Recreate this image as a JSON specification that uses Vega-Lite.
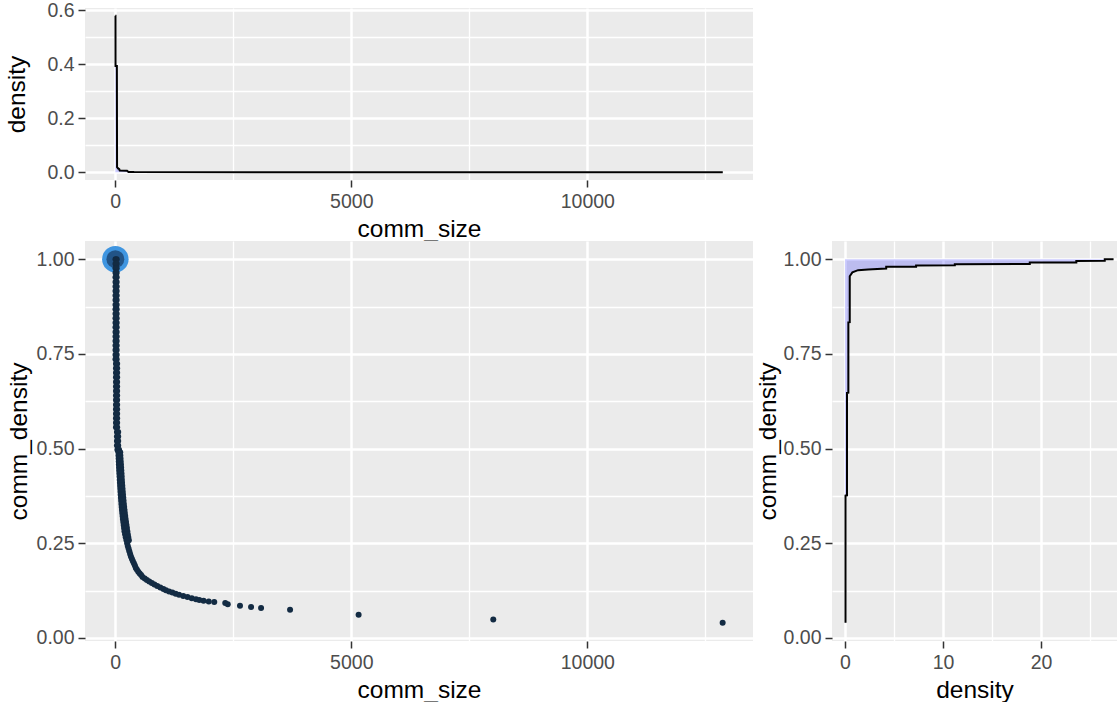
{
  "$schema": "https://vega.github.io/schema/vega-lite/v6.json",
  "autosize": {"type": "pad"},
  "padding": {"left": 4, "top": 0, "right": 0, "bottom": 0},
  "background": "white",
  "config": {
    "view": {"fill": "#EBEBEB", "stroke": null},
    "font": "Liberation Sans",
    "axis": {
      "domain": false,
      "gridColor": "#FFFFFF",
      "tickColor": "#333333",
      "tickSize": 7,
      "tickWidth": 1.5,
      "labelColor": "#4D4D4D",
      "labelFont": "Liberation Sans",
      "labelFontSize": 19.5,
      "labelPadding": 4,
      "titleFont": "Liberation Sans",
      "titleFontSize": 24.5,
      "titleFontWeight": "normal",
      "titleColor": "#000000"
    }
  },
  "datasets": {
    "topdens": [
      {"i": 1, "comm_size": 2, "density": 0.579},
      {"i": 2, "comm_size": 5, "density": 0.579},
      {"i": 3, "comm_size": 6, "density": 0.393},
      {"i": 4, "comm_size": 34, "density": 0.393},
      {"i": 5, "comm_size": 38, "density": 0.0185},
      {"i": 6, "comm_size": 60, "density": 0.014},
      {"i": 7, "comm_size": 85, "density": 0.011},
      {"i": 8, "comm_size": 95, "density": 0.006},
      {"i": 9, "comm_size": 250, "density": 0.005},
      {"i": 10, "comm_size": 280, "density": 0.0008},
      {"i": 11, "comm_size": 400, "density": 0.0002},
      {"i": 12, "comm_size": 12870, "density": 0}
    ],
    "rightdens": [
      {"i": 1, "density": 0.05, "comm_density": 0.04},
      {"i": 2, "density": 0.05, "comm_density": 0.376},
      {"i": 3, "density": 0.2, "comm_density": 0.3765},
      {"i": 4, "density": 0.2, "comm_density": 0.647},
      {"i": 5, "density": 0.34, "comm_density": 0.6475},
      {"i": 6, "density": 0.34, "comm_density": 0.833},
      {"i": 7, "density": 0.48, "comm_density": 0.8335},
      {"i": 8, "density": 0.48, "comm_density": 0.955},
      {"i": 9, "density": 0.75, "comm_density": 0.965},
      {"i": 10, "density": 1.33, "comm_density": 0.971},
      {"i": 11, "density": 2.35, "comm_density": 0.973},
      {"i": 12, "density": 4.2, "comm_density": 0.9755},
      {"i": 13, "density": 4.2, "comm_density": 0.9797},
      {"i": 14, "density": 7.25, "comm_density": 0.9799},
      {"i": 15, "density": 7.25, "comm_density": 0.9835},
      {"i": 16, "density": 11.2, "comm_density": 0.9842},
      {"i": 17, "density": 11.2, "comm_density": 0.9868},
      {"i": 18, "density": 18.85, "comm_density": 0.987},
      {"i": 19, "density": 18.85, "comm_density": 0.9913},
      {"i": 20, "density": 23.6, "comm_density": 0.9915},
      {"i": 21, "density": 23.6, "comm_density": 0.9955},
      {"i": 22, "density": 26.5, "comm_density": 0.9957},
      {"i": 23, "density": 26.5, "comm_density": 0.9998},
      {"i": 24, "density": 27.4, "comm_density": 1.0}
    ],
    "big": [{"comm_size": 2, "comm_density": 1.0}],
    "pts": [
      {"comm_size": 5, "comm_density": 1.0}, {"comm_size": 30, "comm_density": 1.0},
      {"comm_size": 5, "comm_density": 0.988}, {"comm_size": 30, "comm_density": 0.988},
      {"comm_size": 5, "comm_density": 0.976}, {"comm_size": 30, "comm_density": 0.976},
      {"comm_size": 5, "comm_density": 0.964}, {"comm_size": 30, "comm_density": 0.964},
      {"comm_size": 5, "comm_density": 0.952}, {"comm_size": 30, "comm_density": 0.952},
      {"comm_size": 5, "comm_density": 0.94}, {"comm_size": 30, "comm_density": 0.94},
      {"comm_size": 5, "comm_density": 0.928}, {"comm_size": 30, "comm_density": 0.928},
      {"comm_size": 5, "comm_density": 0.916}, {"comm_size": 30, "comm_density": 0.916},
      {"comm_size": 5, "comm_density": 0.904}, {"comm_size": 30, "comm_density": 0.904},
      {"comm_size": 5, "comm_density": 0.892}, {"comm_size": 30, "comm_density": 0.892},
      {"comm_size": 5, "comm_density": 0.88}, {"comm_size": 30, "comm_density": 0.88},
      {"comm_size": 5, "comm_density": 0.868}, {"comm_size": 30, "comm_density": 0.868},
      {"comm_size": 5, "comm_density": 0.856}, {"comm_size": 30, "comm_density": 0.856},
      {"comm_size": 5, "comm_density": 0.844}, {"comm_size": 30, "comm_density": 0.844},
      {"comm_size": 5, "comm_density": 0.832}, {"comm_size": 30, "comm_density": 0.832},
      {"comm_size": 5, "comm_density": 0.82}, {"comm_size": 30, "comm_density": 0.82},
      {"comm_size": 5, "comm_density": 0.808}, {"comm_size": 30, "comm_density": 0.808},
      {"comm_size": 5, "comm_density": 0.796}, {"comm_size": 30, "comm_density": 0.796},
      {"comm_size": 5, "comm_density": 0.784}, {"comm_size": 30, "comm_density": 0.784},
      {"comm_size": 5, "comm_density": 0.772}, {"comm_size": 30, "comm_density": 0.772},
      {"comm_size": 5, "comm_density": 0.76}, {"comm_size": 30, "comm_density": 0.76},
      {"comm_size": 5, "comm_density": 0.748}, {"comm_size": 30, "comm_density": 0.748},
      {"comm_size": 5, "comm_density": 0.736}, {"comm_size": 30, "comm_density": 0.736},
      {"comm_size": 15, "comm_density": 0.724}, {"comm_size": 40, "comm_density": 0.724},
      {"comm_size": 15, "comm_density": 0.712}, {"comm_size": 40, "comm_density": 0.712},
      {"comm_size": 15, "comm_density": 0.7}, {"comm_size": 40, "comm_density": 0.7},
      {"comm_size": 15, "comm_density": 0.688}, {"comm_size": 40, "comm_density": 0.688},
      {"comm_size": 15, "comm_density": 0.676}, {"comm_size": 40, "comm_density": 0.676},
      {"comm_size": 15, "comm_density": 0.664}, {"comm_size": 40, "comm_density": 0.664},
      {"comm_size": 15, "comm_density": 0.652}, {"comm_size": 40, "comm_density": 0.652},
      {"comm_size": 15, "comm_density": 0.64}, {"comm_size": 40, "comm_density": 0.64},
      {"comm_size": 15, "comm_density": 0.628}, {"comm_size": 40, "comm_density": 0.628},
      {"comm_size": 15, "comm_density": 0.616}, {"comm_size": 40, "comm_density": 0.616},
      {"comm_size": 15, "comm_density": 0.604}, {"comm_size": 40, "comm_density": 0.604},
      {"comm_size": 15, "comm_density": 0.592}, {"comm_size": 40, "comm_density": 0.592},
      {"comm_size": 15, "comm_density": 0.58}, {"comm_size": 40, "comm_density": 0.58},
      {"comm_size": 15, "comm_density": 0.568}, {"comm_size": 40, "comm_density": 0.568},
      {"comm_size": 15, "comm_density": 0.556}, {"comm_size": 40, "comm_density": 0.556},
      {"comm_size": 35, "comm_density": 0.544}, {"comm_size": 62, "comm_density": 0.544},
      {"comm_size": 35, "comm_density": 0.532}, {"comm_size": 62, "comm_density": 0.532},
      {"comm_size": 35, "comm_density": 0.52}, {"comm_size": 62, "comm_density": 0.52},
      {"comm_size": 35, "comm_density": 0.508}, {"comm_size": 62, "comm_density": 0.508},
      {"comm_size": 45, "comm_density": 0.497}, {"comm_size": 80, "comm_density": 0.497},
      {"comm_size": 66, "comm_density": 0.49}, {"comm_size": 105, "comm_density": 0.49},
      {"comm_size": 68, "comm_density": 0.482}, {"comm_size": 108, "comm_density": 0.482},
      {"comm_size": 71, "comm_density": 0.474}, {"comm_size": 112, "comm_density": 0.474},
      {"comm_size": 74, "comm_density": 0.466}, {"comm_size": 116, "comm_density": 0.466},
      {"comm_size": 77, "comm_density": 0.458}, {"comm_size": 120, "comm_density": 0.458},
      {"comm_size": 80, "comm_density": 0.45}, {"comm_size": 124, "comm_density": 0.45},
      {"comm_size": 83, "comm_density": 0.442}, {"comm_size": 128, "comm_density": 0.442},
      {"comm_size": 87, "comm_density": 0.434}, {"comm_size": 132, "comm_density": 0.434},
      {"comm_size": 91, "comm_density": 0.426}, {"comm_size": 136, "comm_density": 0.426},
      {"comm_size": 95, "comm_density": 0.418}, {"comm_size": 140, "comm_density": 0.418},
      {"comm_size": 99, "comm_density": 0.41}, {"comm_size": 144, "comm_density": 0.41},
      {"comm_size": 103, "comm_density": 0.402}, {"comm_size": 149, "comm_density": 0.402},
      {"comm_size": 107, "comm_density": 0.394}, {"comm_size": 154, "comm_density": 0.394},
      {"comm_size": 111, "comm_density": 0.386}, {"comm_size": 159, "comm_density": 0.386},
      {"comm_size": 115, "comm_density": 0.378}, {"comm_size": 164, "comm_density": 0.378},
      {"comm_size": 120, "comm_density": 0.37}, {"comm_size": 170, "comm_density": 0.37},
      {"comm_size": 125, "comm_density": 0.362}, {"comm_size": 176, "comm_density": 0.362},
      {"comm_size": 130, "comm_density": 0.354}, {"comm_size": 182, "comm_density": 0.354},
      {"comm_size": 136, "comm_density": 0.346}, {"comm_size": 189, "comm_density": 0.346},
      {"comm_size": 142, "comm_density": 0.338}, {"comm_size": 196, "comm_density": 0.338},
      {"comm_size": 148, "comm_density": 0.33}, {"comm_size": 203, "comm_density": 0.33},
      {"comm_size": 155, "comm_density": 0.322}, {"comm_size": 211, "comm_density": 0.322},
      {"comm_size": 162, "comm_density": 0.314}, {"comm_size": 219, "comm_density": 0.314},
      {"comm_size": 170, "comm_density": 0.306}, {"comm_size": 228, "comm_density": 0.306},
      {"comm_size": 178, "comm_density": 0.298}, {"comm_size": 237, "comm_density": 0.298},
      {"comm_size": 186, "comm_density": 0.29}, {"comm_size": 247, "comm_density": 0.29},
      {"comm_size": 195, "comm_density": 0.282}, {"comm_size": 256, "comm_density": 0.282},
      {"comm_size": 208, "comm_density": 0.274}, {"comm_size": 265, "comm_density": 0.274},
      {"comm_size": 222, "comm_density": 0.266}, {"comm_size": 276, "comm_density": 0.266},
      {"comm_size": 238, "comm_density": 0.258}, {"comm_size": 288, "comm_density": 0.258},
      {"comm_size": 252, "comm_density": 0.25},
      {"comm_size": 266, "comm_density": 0.243},
      {"comm_size": 282, "comm_density": 0.236},
      {"comm_size": 298, "comm_density": 0.229},
      {"comm_size": 315, "comm_density": 0.222},
      {"comm_size": 332, "comm_density": 0.215},
      {"comm_size": 352, "comm_density": 0.209},
      {"comm_size": 372, "comm_density": 0.203},
      {"comm_size": 395, "comm_density": 0.197},
      {"comm_size": 416, "comm_density": 0.191},
      {"comm_size": 436, "comm_density": 0.185},
      {"comm_size": 460, "comm_density": 0.18},
      {"comm_size": 488, "comm_density": 0.175},
      {"comm_size": 518, "comm_density": 0.17},
      {"comm_size": 548, "comm_density": 0.166},
      {"comm_size": 578, "comm_density": 0.161},
      {"comm_size": 625, "comm_density": 0.157},
      {"comm_size": 670, "comm_density": 0.153},
      {"comm_size": 720, "comm_density": 0.149},
      {"comm_size": 775, "comm_density": 0.145},
      {"comm_size": 830, "comm_density": 0.141},
      {"comm_size": 890, "comm_density": 0.137},
      {"comm_size": 955, "comm_density": 0.133},
      {"comm_size": 1020, "comm_density": 0.129},
      {"comm_size": 1074, "comm_density": 0.126},
      {"comm_size": 1140, "comm_density": 0.123},
      {"comm_size": 1210, "comm_density": 0.12},
      {"comm_size": 1280, "comm_density": 0.117},
      {"comm_size": 1350, "comm_density": 0.114},
      {"comm_size": 1440, "comm_density": 0.111},
      {"comm_size": 1530, "comm_density": 0.108},
      {"comm_size": 1620, "comm_density": 0.105},
      {"comm_size": 1710, "comm_density": 0.102},
      {"comm_size": 1780, "comm_density": 0.1},
      {"comm_size": 1870, "comm_density": 0.098},
      {"comm_size": 1980, "comm_density": 0.096},
      {"comm_size": 2097, "comm_density": 0.095},
      {"comm_size": 2330, "comm_density": 0.092},
      {"comm_size": 2383, "comm_density": 0.089},
      {"comm_size": 2642, "comm_density": 0.085},
      {"comm_size": 2877, "comm_density": 0.082},
      {"comm_size": 3089, "comm_density": 0.079},
      {"comm_size": 3703, "comm_density": 0.0745},
      {"comm_size": 5155, "comm_density": 0.061},
      {"comm_size": 8008, "comm_density": 0.049},
      {"comm_size": 12867, "comm_density": 0.04}
    ]
  },
  "spacing": 0,
  "vconcat": [
    {
      "width": 668,
      "height": 172,
      "data": {"name": "topdens"},
      "encoding": {
        "x": {
          "field": "comm_size", "type": "quantitative",
          "scale": {"domain": [-641, 13510], "nice": false, "zero": false},
          "axis": {
            "title": "comm_size",
            "values": [0, 2500, 5000, 7500, 10000, 12500],
            "labelExpr": "datum.value % 5000 == 0 ? format(datum.value, 'd') : ''",
            "tickOpacity": {"condition": {"test": "datum.value % 5000 != 0", "value": 0}, "value": 1},
            "gridWidth": {"condition": {"test": "datum.value % 5000 != 0", "value": 1.3}, "value": 2.5},
            "labelPadding": 5,
            "titleY": 49, "titleBaseline": "middle"
          }
        },
        "y": {
          "field": "density", "type": "quantitative",
          "scale": {"domain": [-0.029, 0.608], "nice": false, "zero": false},
          "axis": {
            "title": "density",
            "values": [0, 0.1, 0.2, 0.3, 0.4, 0.5, 0.6],
            "labelExpr": "round(datum.value * 10) % 2 == 0 ? format(datum.value, '.1f') : ''",
            "tickOpacity": {"condition": {"test": "round(datum.value * 10) % 2 == 1", "value": 0}, "value": 1},
            "gridWidth": {"condition": {"test": "round(datum.value * 10) % 2 == 1", "value": 1.3}, "value": 2.5},
            "titleX": -68, "titleAngle": -90, "titleBaseline": "middle"
          }
        }
      },
      "layer": [
        {"mark": {"type": "area", "color": "blue", "opacity": 0.2}, "encoding": {"y": {"field": "density", "type": "quantitative", "stack": null}, "y2": {"datum": 0}}},
        {"mark": {"type": "line", "color": "black", "strokeWidth": 2}, "encoding": {"order": {"field": "i", "type": "quantitative"}}}
      ]
    },
    {
      "spacing": 2,
      "hconcat": [
        {
          "width": 668,
          "height": 400,
          "encoding": {
            "x": {
              "field": "comm_size", "type": "quantitative",
              "scale": {"domain": [-641, 13510], "nice": false, "zero": false},
              "axis": {
                "title": "comm_size",
                "values": [0, 2500, 5000, 7500, 10000, 12500],
                "labelExpr": "datum.value % 5000 == 0 ? format(datum.value, 'd') : ''",
                "tickOpacity": {"condition": {"test": "datum.value % 5000 != 0", "value": 0}, "value": 1},
                "gridWidth": {"condition": {"test": "datum.value % 5000 != 0", "value": 1.3}, "value": 2.5},
                "labelPadding": 5,
                "titleY": 49, "titleBaseline": "middle"
              }
            },
            "y": {
              "field": "comm_density", "type": "quantitative",
              "scale": {"domain": [-0.008, 1.048], "nice": false, "zero": false},
              "axis": {
                "title": "comm_density",
                "values": [0, 0.125, 0.25, 0.375, 0.5, 0.625, 0.75, 0.875, 1.0],
                "labelExpr": "round(datum.value * 8) % 2 == 0 ? format(datum.value, '.2f') : ''",
                "tickOpacity": {"condition": {"test": "round(datum.value * 8) % 2 == 1", "value": 0}, "value": 1},
                "gridWidth": {"condition": {"test": "round(datum.value * 8) % 2 == 1", "value": 1.3}, "value": 2.5},
                "titleX": -66, "titleAngle": -90, "titleBaseline": "middle"
              }
            }
          },
          "layer": [
            {"data": {"name": "big"}, "mark": {"type": "circle", "size": 700, "color": "#3F95E0", "opacity": 1}},
            {"data": {"name": "big"}, "mark": {"type": "circle", "size": 320, "color": "#1C4470", "opacity": 0.8}},
            {"data": {"name": "pts"}, "mark": {"type": "circle", "size": 36, "color": "#132B43", "opacity": 1}}
          ]
        },
        {
          "width": 285,
          "height": 400,
          "data": {"name": "rightdens"},
          "encoding": {
            "x": {
              "field": "density", "type": "quantitative",
              "scale": {"domain": [-1.33, 27.75], "nice": false, "zero": false},
              "axis": {
                "title": "density",
                "values": [0, 5, 10, 15, 20, 25],
                "labelExpr": "datum.value % 10 == 0 ? format(datum.value, 'd') : ''",
                "tickOpacity": {"condition": {"test": "datum.value % 10 != 0", "value": 0}, "value": 1},
                "gridWidth": {"condition": {"test": "datum.value % 10 != 0", "value": 1.3}, "value": 2.5},
                "labelPadding": 5,
                "titleY": 49, "titleBaseline": "middle"
              }
            },
            "y": {
              "field": "comm_density", "type": "quantitative",
              "scale": {"domain": [-0.008, 1.048], "nice": false, "zero": false},
              "axis": {
                "title": "comm_density",
                "values": [0, 0.125, 0.25, 0.375, 0.5, 0.625, 0.75, 0.875, 1.0],
                "labelExpr": "round(datum.value * 8) % 2 == 0 ? format(datum.value, '.2f') : ''",
                "tickOpacity": {"condition": {"test": "round(datum.value * 8) % 2 == 1", "value": 0}, "value": 1},
                "gridWidth": {"condition": {"test": "round(datum.value * 8) % 2 == 1", "value": 1.3}, "value": 2.5},
                "titleX": -64, "titleAngle": -90, "titleBaseline": "middle"
              }
            }
          },
          "layer": [
            {"mark": {"type": "area", "orient": "horizontal", "color": "blue", "opacity": 0.2}, "encoding": {"x": {"field": "density", "type": "quantitative", "stack": null}, "x2": {"datum": 0}}},
            {"mark": {"type": "line", "color": "black", "strokeWidth": 2}, "encoding": {"order": {"field": "i", "type": "quantitative"}}}
          ]
        }
      ]
    }
  ]
}
